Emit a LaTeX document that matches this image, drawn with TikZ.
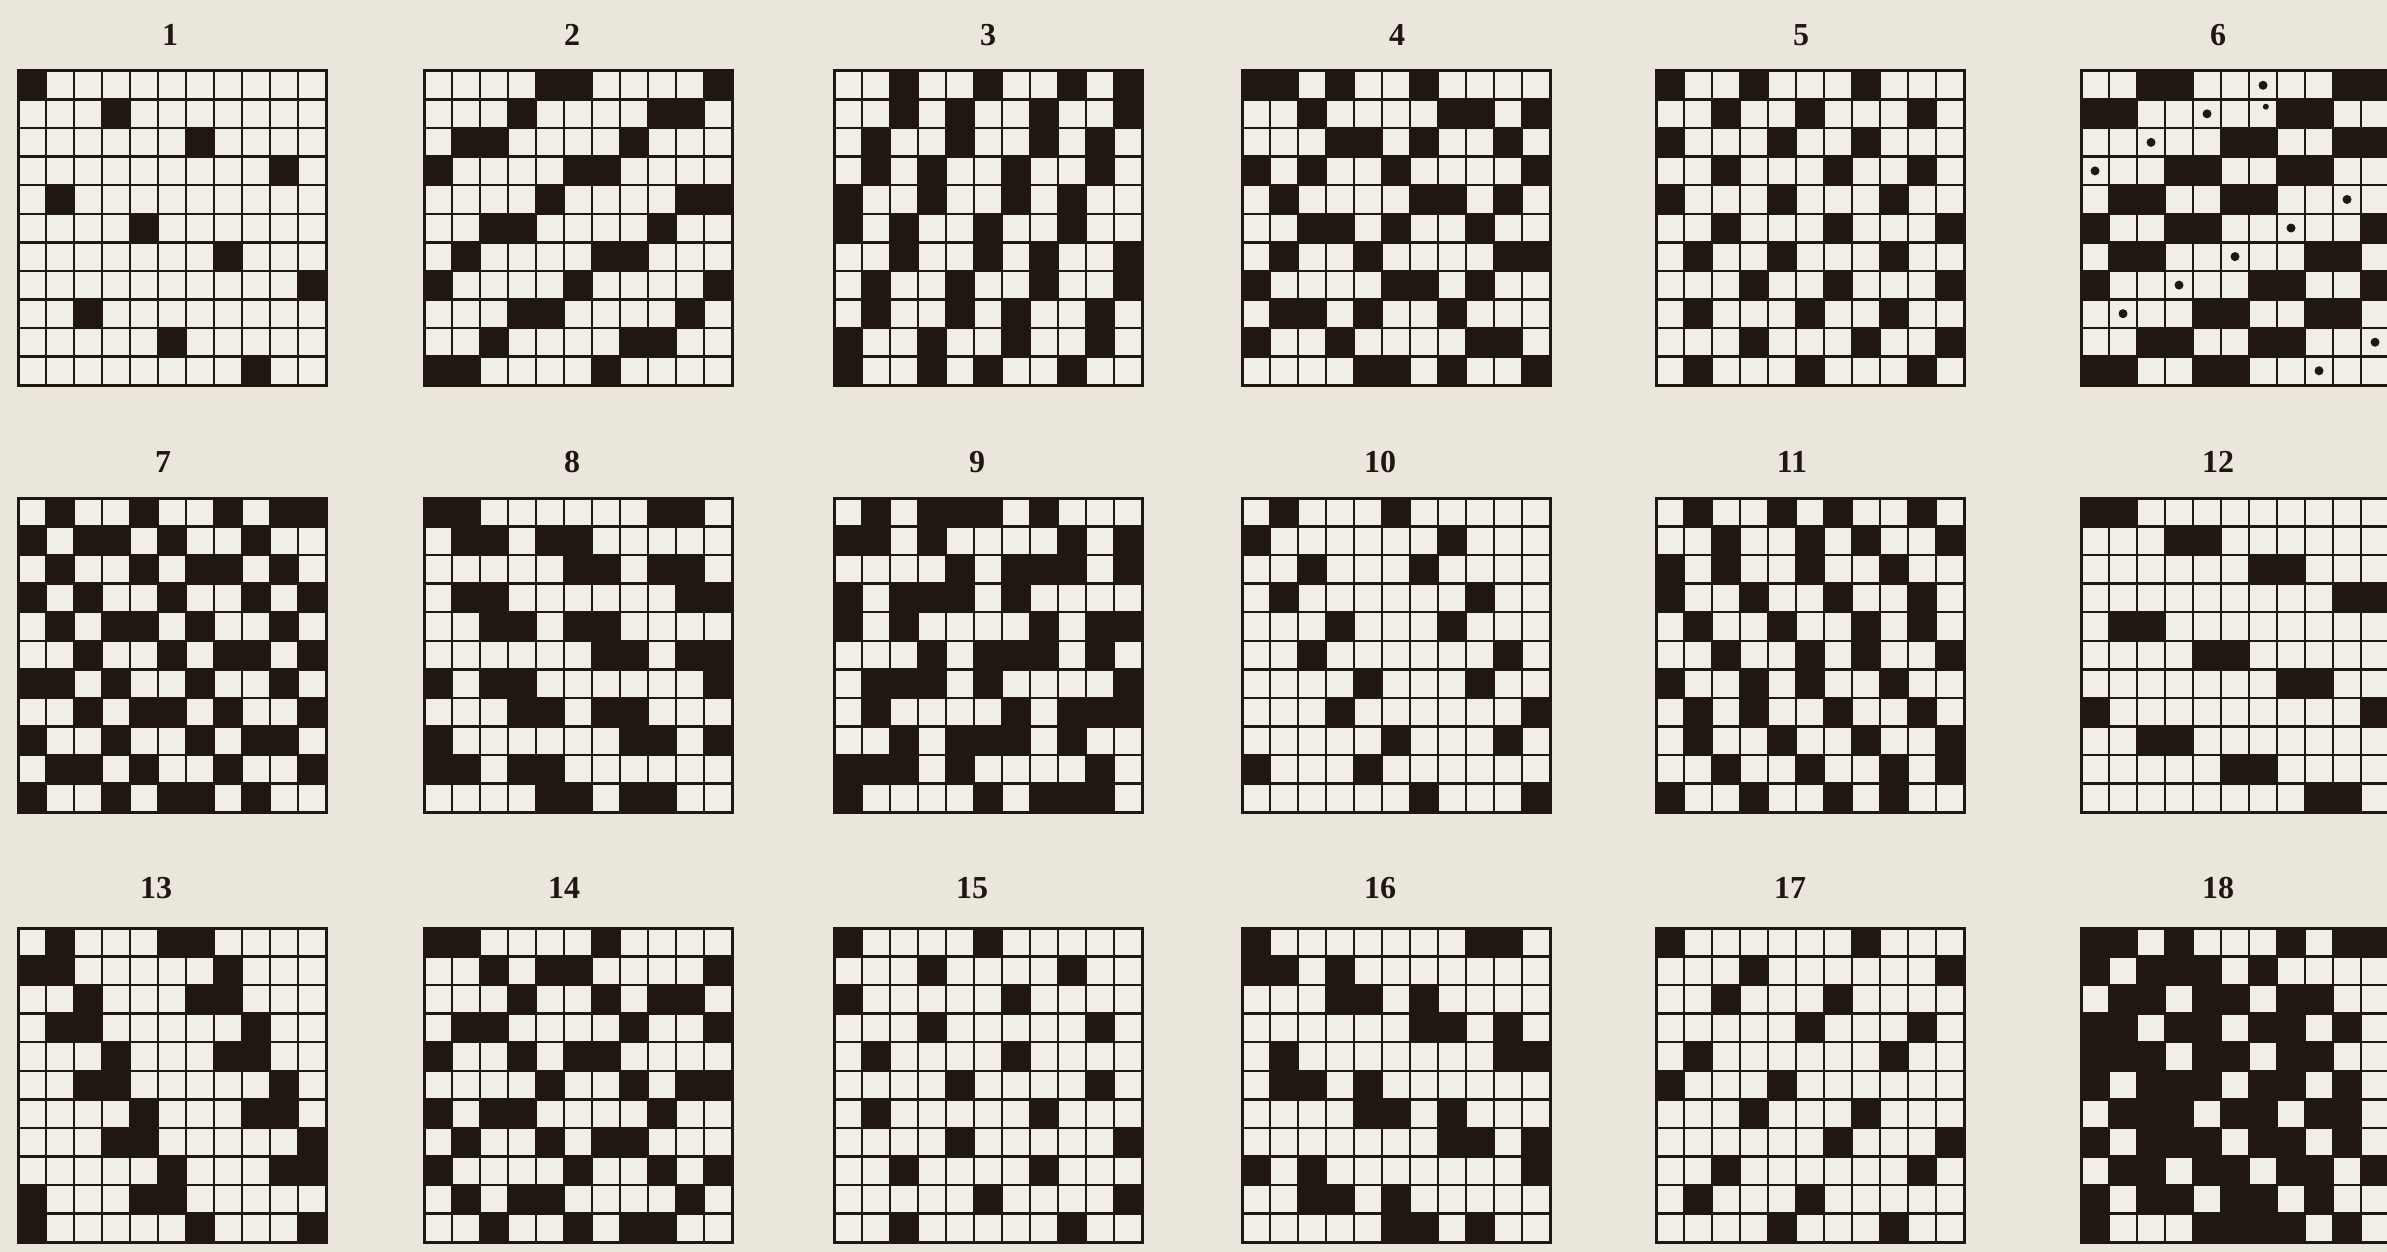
\documentclass[tikz,border=0pt]{standalone}
\usepackage{fontspec}
\setmainfont{Liberation Serif}
\definecolor{paper}{RGB}{235,230,220}
\definecolor{cellw}{RGB}{241,238,230}
\definecolor{ink}{RGB}{32,22,18}
\tikzset{
  blk/.style={fill=ink},
  gline/.style={draw=ink, line width=2.4pt},
  frame/.style={draw=ink, line width=3pt},
  lbl/.style={font=\fontsize{32}{32}\selectfont\bfseries, text=ink, inner sep=0pt},
  wdot/.style={fill=ink}
}
\newcommand\cwd{28}
\newcommand\cht{28.55}
\newcommand\weave[4]{%
  \begin{scope}[shift={(#2,-#3)}]
    \fill[cellw] (0,0) rectangle ({11*\cwd},{-11*\cht});
    \foreach \rw [count=\ri] in {#4} {
      \foreach \c in \rw {
        \fill[blk] ({(\c-1)*\cwd},{-(\ri-1)*\cht}) rectangle ++(\cwd,-\cht);
      }
    }
    \foreach \i in {1,...,10} {
      \draw[gline] ({\i*\cwd},0) -- ++(0,{-11*\cht});
      \draw[gline] (0,{-\i*\cht}) -- ++({11*\cwd},0);
    }
    \draw[frame] (0,0) rectangle ({11*\cwd},{-11*\cht});
    \coordinate (#1) at ({5.5*\cwd},0);
  \end{scope}}
\begin{document}
\begin{tikzpicture}[x=1pt,y=1pt]
\fill[paper] (0,0) rectangle (2387,-1252);
\useasboundingbox (0,0) rectangle (2387,-1252);
\clip (0,0) rectangle (2387,-1252);
% row 1
\weave{g1}{18}{71}{{1},{4},{7},{10},{2},{5},{8},{11},{3},{6},{9}}
\weave{g2}{424}{71}{{5,6,11},{4,9,10},{2,3,8},{1,6,7},{5,10,11},{3,4,9},{2,7,8},{1,6,11},{4,5,10},{3,8,9},{1,2,7}}
\weave{g3}{834}{71}{{3,6,9,11},{3,5,8,11},{2,5,8,10},{2,4,7,10},{1,4,7,9},{1,3,6,9},{3,6,8,11},{2,5,8,11},{2,5,7,10},{1,4,7,10},{1,4,6,9}}
\weave{g4}{1242}{71}{{1,2,4,7},{3,8,9,11},{4,5,7,10},{1,3,6,11},{2,7,8,10},{3,4,6,9},{2,5,10,11},{1,6,7,9},{2,3,5,8},{1,4,9,10},{5,6,8,11}}
\weave{g5}{1656}{71}{{1,4,8},{3,6,10},{1,5,8},{3,7,10},{1,5,9},{3,7,11},{2,5,9},{4,7,11},{2,6,9},{4,8,11},{2,6,10}}
\weave{g6}{2081}{71}{{3,4,10,11},{1,2,8,9},{6,7,10,11},{4,5,8,9},{2,3,6,7},{1,4,5,11},{2,3,9,10},{1,7,8,11},{5,6,9,10},{3,4,7,8},{1,2,5,6}}
\begin{scope}[shift={(2081,-71)}]
  \foreach \ri/\c in {1/7,2/5,3/3,4/1,5/10,6/8,7/6,8/4,9/2,10/11,11/9}
    \fill[wdot] ({(\c-0.5)*\cwd},{-(\ri-0.5)*\cht}) circle (4.5);
  \fill[wdot] ({6.6*\cwd},{-1.25*\cht}) circle (3);
\end{scope}
% row 2
\weave{g7}{18}{498}{{2,5,8,10,11},{1,3,4,6,9},{2,5,7,8,10},{1,3,6,9,11},{2,4,5,7,10},{3,6,8,9,11},{1,2,4,7,10},{3,5,6,8,11},{1,4,7,9,10},{2,3,5,8,11},{1,4,6,7,9}}
\weave{g8}{424}{498}{{1,2,9,10},{2,3,5,6},{6,7,9,10},{2,3,10,11},{3,4,6,7},{7,8,10,11},{1,3,4,11},{4,5,7,8},{1,8,9,11},{1,2,4,5},{5,6,8,9}}
\weave{g9}{834}{498}{{2,4,5,6,8},{1,2,4,9,11},{5,7,8,9,11},{1,3,4,5,7},{1,3,8,10,11},{4,6,7,8,10},{2,3,4,6,11},{2,7,9,10,11},{3,5,6,7,9},{1,2,3,5,10},{1,6,8,9,10}}
\weave{g10}{1242}{498}{{2,6},{1,8},{3,7},{2,9},{4,8},{3,10},{5,9},{4,11},{6,10},{1,5},{7,11}}
\weave{g11}{1656}{498}{{2,5,7,10},{3,6,8,11},{1,3,6,9},{1,4,7,10},{2,5,8,10},{3,6,8,11},{1,4,6,9},{2,4,7,10},{2,5,8,11},{3,6,9,11},{1,4,7,9}}
\weave{g12}{2081}{498}{{1,2},{4,5},{7,8},{10,11},{2,3},{5,6},{8,9},{1,11},{3,4},{6,7},{9,10}}
% row 3
\weave{g13}{18}{928}{{2,6,7},{1,2,8},{3,7,8},{2,3,9},{4,8,9},{3,4,10},{5,9,10},{4,5,11},{6,10,11},{1,5,6},{1,7,11}}
\weave{g14}{424}{928}{{1,2,7},{3,5,6,11},{4,7,9,10},{2,3,8,11},{1,4,6,7},{5,8,10,11},{1,3,4,9},{2,5,7,8},{1,6,9,11},{2,4,5,10},{3,6,8,9}}
\weave{g15}{834}{928}{{1,6},{4,9},{1,7},{4,10},{2,7},{5,10},{2,8},{5,11},{3,8},{6,11},{3,9}}
\weave{g16}{1242}{928}{{1,9,10},{1,2,4},{4,5,7},{7,8,10},{2,10,11},{2,3,5},{5,6,8},{8,9,11},{1,3,11},{3,4,6},{6,7,9}}
\weave{g17}{1656}{928}{{1,8},{4,11},{3,7},{6,10},{2,9},{1,5},{4,8},{7,11},{3,10},{2,6},{5,9}}
\weave{g18}{2081}{928}{{1,2,4,8,10,11},{1,3,4,5,7},{2,3,5,6,8,9},{1,2,4,5,7,8,10},{1,2,3,5,6,8,9},{1,3,4,5,7,8,10},{2,3,4,6,7,9,10},{1,3,4,5,7,8,10},{2,3,5,6,8,9,11},{1,3,4,6,7,9},{1,5,6,7,8,10}}
% labels
\node[lbl] (l1) at (170,-35) {1};
\node[lbl] (l2) at (572,-35) {2};
\node[lbl] (l3) at (988,-35) {3};
\node[lbl] (l4) at (1397,-35) {4};
\node[lbl] (l5) at (1801,-35) {5};
\node[lbl] (l6) at (2218,-35) {6};
\node[lbl] (l7) at (163,-462) {7};
\node[lbl] (l8) at (572,-462) {8};
\node[lbl] (l9) at (977,-462) {9};
\node[lbl] (l10) at (1380,-462) {10};
\node[lbl] (l11) at (1792,-462) {11};
\node[lbl] (l12) at (2218,-462) {12};
\node[lbl] (l13) at (156,-888) {13};
\node[lbl] (l14) at (564,-888) {14};
\node[lbl] (l15) at (972,-888) {15};
\node[lbl] (l16) at (1380,-888) {16};
\node[lbl] (l17) at (1790,-888) {17};
\node[lbl] (l18) at (2218,-888) {18};
\end{tikzpicture}
\end{document}
